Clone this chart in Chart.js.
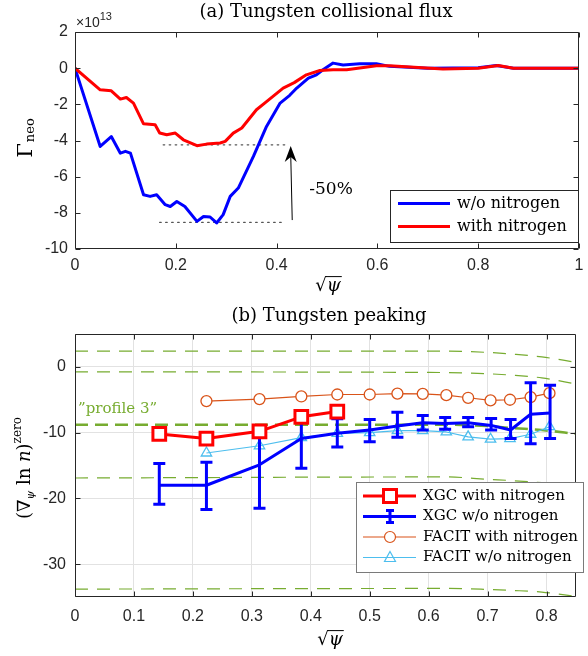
<!DOCTYPE html>
<html><head><meta charset="utf-8">
<script src="https://cdn.jsdelivr.net/npm/chart.js@4.4.1/dist/chart.umd.min.js"></script>
<style>
html,body{margin:0;padding:0;background:#fff;}
#wrap{position:relative;width:588px;height:656px;overflow:hidden;}
#c1{position:absolute;left:0;top:0;}
#c2{position:absolute;left:0;top:300px;}
</style></head><body>
<div id="wrap"><canvas id="c1" width="588" height="300"></canvas><canvas id="c2" width="588" height="356"></canvas></div>
<script>
// ---------- (a) Tungsten collisional flux (units of 1e13) ----------
const fluxXTicks = [0, 0.2, 0.4, 0.6, 0.8, 1];
const fluxYTicks = [-10, -8, -6, -4, -2, 0, 2];
const fluxSeriesNames = ['w/o nitrogen', 'with nitrogen'];
const fluxWoX = [0, 0.05, 0.072, 0.09, 0.1, 0.11, 0.136, 0.149, 0.162, 0.179, 0.189, 0.202, 0.218, 0.242, 0.255, 0.268, 0.281, 0.294, 0.308, 0.324, 0.354, 0.38, 0.407, 0.426, 0.44, 0.463, 0.479, 0.492, 0.512, 0.532, 0.565, 0.598, 0.624, 0.7, 0.8, 0.836, 0.87, 1.0];
const fluxWoY = [0, -4.33, -3.78, -4.7, -4.6, -4.7, -7.0, -7.09, -7.0, -7.55, -7.65, -7.37, -7.65, -8.47, -8.2, -8.23, -8.56, -8.1, -7.09, -6.63, -4.88, -3.22, -1.93, -1.5, -1.1, -0.55, -0.37, -0.09, 0.28, 0.18, 0.24, 0.24, 0.1, 0.0, 0.02, 0.15, 0.0, 0.0];
const fluxWithX = [0, 0.05, 0.072, 0.09, 0.102, 0.116, 0.136, 0.159, 0.168, 0.182, 0.199, 0.215, 0.242, 0.261, 0.288, 0.298, 0.314, 0.331, 0.36, 0.38, 0.413, 0.435, 0.459, 0.486, 0.512, 0.539, 0.598, 0.624, 0.73, 0.8, 0.84, 0.87, 1.0];
const fluxWithY = [0, -1.2, -1.25, -1.71, -1.62, -1.93, -3.08, -3.13, -3.59, -3.68, -3.59, -3.96, -4.29, -4.2, -4.14, -4.05, -3.59, -3.31, -2.3, -1.85, -1.1, -0.8, -0.37, -0.13, -0.09, -0.09, 0.13, 0.13, -0.05, 0.0, 0.15, 0.0, 0.0];
const dotUpperX = [0.175, 0.423], dotUpperY = [-4.24, -4.24];
const dotLowerX = [0.168, 0.413], dotLowerY = [-8.53, -8.53];
const arrowX = [0.431, 0.428], arrowY = [-8.4, -4.3];
const pctText = '-50%', pctX = 0.508, pctY = -6.72;

// ---------- (b) Tungsten peaking ----------
const peakXTicks = [0, 0.1, 0.2, 0.3, 0.4, 0.5, 0.6, 0.7, 0.8];
const peakYTicks = [-30, -20, -10, 0];
const peakSeriesNames = ['XGC with nitrogen', 'XGC w/o nitrogen', 'FACIT with nitrogen', 'FACIT w/o nitrogen'];
const xgcWithX = [0.143, 0.223, 0.313, 0.384, 0.445];
const xgcWithY = [-10.2, -10.9, -9.8, -7.6, -6.8];
const xgcWoX = [0.143, 0.223, 0.313, 0.384, 0.445, 0.5, 0.547, 0.59, 0.628, 0.667, 0.706, 0.739, 0.773, 0.806];
const xgcWoY = [-18.0, -18.0, -14.9, -10.9, -10.1, -9.6, -9.0, -8.5, -8.6, -8.5, -8.9, -9.6, -7.2, -7.0];
const xgcWoHi = [-14.7, -14.5, -9.6, -7.6, -7.9, -8.0, -6.9, -7.4, -7.7, -7.7, -7.85, -8.0, -2.4, -2.8];
const xgcWoLo = [-20.9, -21.7, -21.5, -15.4, -12.2, -11.4, -10.7, -9.6, -9.5, -9.1, -9.6, -10.9, -11.7, -10.9];
const facitX = [0.223, 0.313, 0.384, 0.445, 0.5, 0.547, 0.59, 0.63, 0.667, 0.705, 0.738, 0.773, 0.805];
const facitWithY = [-5.2, -4.9, -4.5, -4.2, -4.2, -4.06, -4.1, -4.3, -4.7, -5.1, -5.0, -4.6, -4.0];
const facitWoY = [-13.1, -12.0, -10.75, -10.1, -10.0, -9.7, -9.7, -9.9, -10.65, -11.0, -10.9, -10.25, -9.1];
const profX = [0, 0.63, 0.7, 0.742, 0.792, 0.85];
const profA = [2.4, 2.4, 2.2, 1.94, 1.52, 0.7];
const profB = [-0.76, -0.86, -1.05, -1.26, -1.67, -2.6];
const prof3 = [-8.8, -8.8, -9.0, -9.3, -9.6, -10.2];
const profC = [-16.9, -16.74, -17.1, -17.3, -17.6, -18.0];
const profD = [-33.8, -33.7, -33.85, -34.0, -34.25, -34.9];
const prof3Label = '\u201dprofile 3\u201d';

// ---------- helpers ----------
const TXT = '#262626';
const SERIF = '"DejaVu Serif", "Liberation Serif", serif';
const TICK_FONT = {family: '"Liberation Sans", Arial, sans-serif', size: 16};
const RED = '#ff0000', BLUE = '#0000ff', ORANGE = '#D95319', LBLUE = '#4DBEEE', GREEN = '#77AC30';

function pts(xs, ys) { return xs.map((x, i) => ({x: x, y: ys[i]})); }
function setTicks(vals) { return function (scale) { scale.ticks = vals.map(v => ({value: v})); }; }
function fitAxis(size, isX) {
  return function (scale) {
    if (isX) scale.height = size; else scale.width = size;
    scale.paddingLeft = 0; scale.paddingRight = 0; scale.paddingTop = 0; scale.paddingBottom = 0;
  };
}
function drawFrame(chart, xt, yt) {
  const {ctx, chartArea: a, scales: {x, y}} = chart;
  const L = Math.round(a.left) + 0.5, R = Math.round(a.right) - 0.5, T = Math.round(a.top) + 0.5, B = Math.round(a.bottom) - 0.5;
  ctx.save();
  ctx.strokeStyle = TXT; ctx.lineWidth = 1;
  ctx.beginPath(); ctx.rect(L, T, R - L, B - T); ctx.stroke();
  const tl = 5;
  ctx.beginPath();
  xt.forEach(v => { const px = Math.round(x.getPixelForValue(v)) + 0.5; ctx.moveTo(px, B); ctx.lineTo(px, B - tl); ctx.moveTo(px, T); ctx.lineTo(px, T + tl); });
  yt.forEach(v => { const py = Math.round(y.getPixelForValue(v)) + 0.5; ctx.moveTo(L, py); ctx.lineTo(L + tl, py); ctx.moveTo(R, py); ctx.lineTo(R - tl, py); });
  ctx.stroke();
  ctx.restore();
}
function drawSqrtPsi(ctx, cx, baseY) {
  ctx.save();
  ctx.fillStyle = '#000'; ctx.strokeStyle = '#000';
  ctx.textAlign = 'left'; ctx.textBaseline = 'alphabetic';
  ctx.font = '18px ' + SERIF;
  const m1 = ctx.measureText('\u221a'); const w1 = m1.width;
  ctx.font = 'italic 18px ' + SERIF;
  const w2 = ctx.measureText('\u03c8').width;
  const x0 = cx - (w1 + w2) / 2;
  ctx.font = '18px ' + SERIF; ctx.fillText('\u221a', x0, baseY);
  ctx.font = 'italic 18px ' + SERIF; ctx.fillText('\u03c8', x0 + w1, baseY);
  const topY = baseY - m1.actualBoundingBoxAscent + 0.6;
  ctx.lineWidth = 1;
  ctx.beginPath(); ctx.moveTo(x0 + w1 - 1.5, topY); ctx.lineTo(x0 + w1 + w2 + 1, topY); ctx.stroke();
  ctx.restore();
}
function drawTitle(ctx, text, cx, baseY) {
  ctx.save(); ctx.fillStyle = '#000'; ctx.font = '18px ' + SERIF;
  ctx.textAlign = 'center'; ctx.textBaseline = 'alphabetic';
  ctx.fillText(text, cx, baseY); ctx.restore();
}

// ---------- chart (a) plugin ----------
const fluxDecor = {
  id: 'fluxDecor',
  afterDatasetsDraw(chart) {
    const {ctx, scales: {x, y}} = chart;
    const x1 = x.getPixelForValue(arrowX[0]), y1 = y.getPixelForValue(arrowY[0]);
    const x2 = x.getPixelForValue(arrowX[1]), y2 = y.getPixelForValue(arrowY[1]);
    ctx.save();
    ctx.strokeStyle = '#000'; ctx.fillStyle = '#000'; ctx.lineWidth = 1;
    ctx.beginPath(); ctx.moveTo(x1, y1); ctx.lineTo(x2, y2 + 8); ctx.stroke();
    ctx.beginPath(); ctx.moveTo(x2, y2); ctx.lineTo(x2 - 6, y2 + 16); ctx.lineTo(x2, y2 + 11); ctx.lineTo(x2 + 6, y2 + 16); ctx.closePath(); ctx.fill();
    ctx.font = '17px ' + SERIF; ctx.textAlign = 'center'; ctx.textBaseline = 'middle';
    ctx.fillText(pctText, x.getPixelForValue(pctX), y.getPixelForValue(pctY));
    ctx.restore();
  },
  afterDraw(chart) {
    const ctx = chart.ctx;
    drawFrame(chart, fluxXTicks, fluxYTicks);
    drawTitle(ctx, '(a) Tungsten collisional flux', 326, 17);
    ctx.save(); ctx.fillStyle = TXT; ctx.textAlign = 'left'; ctx.textBaseline = 'alphabetic';
    ctx.font = '14px "Liberation Sans", Arial, sans-serif'; ctx.fillText('\u00d710', 76, 27);
    const w = ctx.measureText('\u00d710').width;
    ctx.font = '11px "Liberation Sans", Arial, sans-serif'; ctx.fillText('13', 76 + w, 20);
    ctx.restore();
    ctx.save(); ctx.translate(32, 138); ctx.rotate(-Math.PI / 2);
    ctx.fillStyle = '#000'; ctx.textAlign = 'left'; ctx.textBaseline = 'alphabetic';
    ctx.font = '21px ' + SERIF; const wG = ctx.measureText('\u0393').width;
    ctx.font = '13px ' + SERIF; const wn = ctx.measureText('neo').width;
    const tot = wG + wn + 1;
    ctx.font = '21px ' + SERIF; ctx.fillText('\u0393', -tot / 2, 0);
    ctx.font = '13px ' + SERIF; ctx.fillText('neo', -tot / 2 + wG + 1, 2);
    ctx.restore();
    drawSqrtPsi(ctx, 328, 291);
    ctx.save();
    ctx.fillStyle = '#fff'; ctx.strokeStyle = TXT; ctx.lineWidth = 1;
    ctx.fillRect(390.5, 190.5, 188, 52); ctx.strokeRect(390.5, 190.5, 188, 52);
    const cols = [BLUE, RED], rows = [203.5, 226.5];
    fluxSeriesNames.forEach((n, i) => {
      ctx.strokeStyle = cols[i]; ctx.lineWidth = 3;
      ctx.beginPath(); ctx.moveTo(398, rows[i]); ctx.lineTo(450, rows[i]); ctx.stroke();
      ctx.fillStyle = '#000'; ctx.font = '16px ' + SERIF; ctx.textAlign = 'left'; ctx.textBaseline = 'middle';
      ctx.fillText(n, 457, rows[i]);
    });
    ctx.restore();
  }
};

new Chart(document.getElementById('c1'), {
  type: 'line',
  data: {
    datasets: [
      {label: fluxSeriesNames[1], data: pts(fluxWithX, fluxWithY), borderColor: RED, borderWidth: 3, order: 1},
      {label: fluxSeriesNames[0], data: pts(fluxWoX, fluxWoY), borderColor: BLUE, borderWidth: 3, order: 2},
      {label: 'ref upper', data: pts(dotUpperX, dotUpperY), borderColor: '#555', borderWidth: 1.3, borderDash: [1.5, 4.5], order: 3},
      {label: 'ref lower', data: pts(dotLowerX, dotLowerY), borderColor: '#555', borderWidth: 1.3, borderDash: [1.5, 4.5], order: 3}
    ]
  },
  options: {
    responsive: false, animation: false, devicePixelRatio: 1,
    layout: {padding: {left: 0, right: 9, top: 32, bottom: 11}},
    plugins: {legend: {display: false}, tooltip: {enabled: false}, title: {display: false}},
    elements: {point: {radius: 0}, line: {tension: 0, borderJoinStyle: 'round', borderCapStyle: 'round'}},
    scales: {
      x: {type: 'linear', min: 0, max: 1, afterBuildTicks: setTicks(fluxXTicks), afterFit: fitAxis(40, true),
        grid: {display: false, drawTicks: false}, border: {display: false},
        ticks: {font: TICK_FONT, color: TXT, padding: 7, maxRotation: 0, autoSkip: false, callback: v => String(v)}},
      y: {type: 'linear', min: -10, max: 2, afterBuildTicks: setTicks(fluxYTicks), afterFit: fitAxis(75, false),
        grid: {display: false, drawTicks: false}, border: {display: false},
        ticks: {font: TICK_FONT, color: TXT, padding: 7, autoSkip: false, callback: v => String(v)}}
    }
  },
  plugins: [fluxDecor]
});

// ---------- chart (b) ----------
const XGC_WO_INDEX = 6;
const peakDecor = {
  id: 'peakDecor',
  afterDatasetDraw(chart, args) {
    if (args.index !== XGC_WO_INDEX) return;
    const {ctx, scales: {x, y}} = chart;
    ctx.save(); ctx.strokeStyle = BLUE; ctx.lineWidth = 3; ctx.lineCap = 'butt';
    xgcWoX.forEach((xv, i) => {
      const px = x.getPixelForValue(xv), pl = y.getPixelForValue(xgcWoLo[i]), ph = y.getPixelForValue(xgcWoHi[i]);
      ctx.beginPath();
      ctx.moveTo(px, pl); ctx.lineTo(px, ph);
      ctx.moveTo(px - 6, pl); ctx.lineTo(px + 6, pl);
      ctx.moveTo(px - 6, ph); ctx.lineTo(px + 6, ph);
      ctx.stroke();
    });
    ctx.restore();
  },
  afterDraw(chart) {
    const ctx = chart.ctx;
    drawFrame(chart, peakXTicks, peakYTicks);
    drawTitle(ctx, '(b) Tungsten peaking', 329, 21);
    ctx.save(); ctx.fillStyle = GREEN; ctx.font = '15px ' + SERIF; ctx.textAlign = 'left'; ctx.textBaseline = 'alphabetic';
    ctx.fillText(prof3Label, 78, 113); ctx.restore();
    ctx.save(); ctx.translate(30, 168); ctx.rotate(-Math.PI / 2);
    ctx.fillStyle = '#000'; ctx.textAlign = 'left'; ctx.textBaseline = 'alphabetic';
    const parts = [
      {t: '(', f: '18px ' + SERIF, dy: 0},
      {t: '\u2207', f: '18px ' + SERIF, dy: 0},
      {t: '\u03c8', f: 'italic 11px ' + SERIF, dy: 4},
      {t: ' ln ', f: '18px ' + SERIF, dy: 0},
      {t: 'n', f: 'italic 18px ' + SERIF, dy: 0},
      {t: ')', f: '18px ' + SERIF, dy: 0},
      {t: 'zero', f: '12px ' + SERIF, dy: -9}
    ];
    let total = 0;
    parts.forEach(p => { ctx.font = p.f; p.w = ctx.measureText(p.t).width; total += p.w; });
    let cx = -total / 2;
    parts.forEach(p => { ctx.font = p.f; ctx.fillText(p.t, cx, p.dy); cx += p.w; });
    ctx.restore();
    drawSqrtPsi(ctx, 330, 345);
    ctx.save();
    ctx.fillStyle = '#fff'; ctx.strokeStyle = '#7a7a7a'; ctx.lineWidth = 1;
    ctx.fillRect(356.5, 182.5, 227, 90); ctx.strokeRect(356.5, 182.5, 227, 90);
    const rows = [196, 216.5, 237, 257.5];
    const cols = [RED, BLUE, ORANGE, LBLUE];
    const widths = [3, 3, 1.2, 1.2];
    peakSeriesNames.forEach((n, i) => {
      const yy = rows[i], mx = 390;
      ctx.strokeStyle = cols[i]; ctx.lineWidth = widths[i];
      ctx.beginPath(); ctx.moveTo(363, yy); ctx.lineTo(416, yy); ctx.stroke();
      ctx.beginPath();
      if (i === 0) { ctx.lineWidth = 3; ctx.fillStyle = '#fff'; ctx.rect(mx - 6.5, yy - 6.5, 13, 13); ctx.fill(); ctx.stroke(); }
      if (i === 1) { ctx.lineWidth = 3; ctx.moveTo(mx, yy - 6); ctx.lineTo(mx, yy + 6); ctx.moveTo(mx - 4, yy - 6); ctx.lineTo(mx + 4, yy - 6); ctx.moveTo(mx - 4, yy + 6); ctx.lineTo(mx + 4, yy + 6); ctx.stroke(); }
      if (i === 2) { ctx.fillStyle = '#fff'; ctx.arc(mx, yy, 5.5, 0, Math.PI * 2); ctx.fill(); ctx.stroke(); }
      if (i === 3) { ctx.moveTo(mx, yy - 6); ctx.lineTo(mx + 5.5, yy + 4); ctx.lineTo(mx - 5.5, yy + 4); ctx.closePath(); ctx.stroke(); }
      ctx.fillStyle = '#000'; ctx.font = '15px ' + SERIF; ctx.textAlign = 'left'; ctx.textBaseline = 'middle';
      ctx.fillText(n, 423, yy);
    });
    ctx.restore();
  }
};

function profDs(label, ys, w, dash) {
  return {label: label, data: pts(profX, ys), borderColor: GREEN, borderWidth: w, borderDash: dash, pointRadius: 0, cubicInterpolationMode: 'monotone', order: 10};
}

new Chart(document.getElementById('c2'), {
  type: 'line',
  data: {
    datasets: [
      profDs('profile 1', profA, 1.2, [13, 9]),
      profDs('profile 2', profB, 1.2, [13, 9]),
      profDs('profile 3', prof3, 2.6, [13, 7]),
      profDs('profile 4', profC, 1.2, [13, 9]),
      profDs('profile 5', profD, 1.2, [13, 9]),
      {label: peakSeriesNames[0], data: pts(xgcWithX, xgcWithY), borderColor: RED, borderWidth: 3, pointStyle: 'rect', pointRadius: 9, pointBorderWidth: 3, pointBackgroundColor: '#fff', pointBorderColor: RED, order: 1},
      {label: peakSeriesNames[1], data: pts(xgcWoX, xgcWoY), borderColor: BLUE, borderWidth: 3, pointRadius: 0, order: 2},
      {label: peakSeriesNames[2], data: pts(facitX, facitWithY), borderColor: ORANGE, borderWidth: 1.2, pointStyle: 'circle', pointRadius: 5.5, pointBorderWidth: 1.3, pointBackgroundColor: '#fff', pointBorderColor: ORANGE, order: 3},
      {label: peakSeriesNames[3], data: pts(facitX, facitWoY), borderColor: LBLUE, borderWidth: 1.2, pointStyle: 'triangle', pointRadius: 6, pointBorderWidth: 1.3, pointBackgroundColor: 'rgba(0,0,0,0)', pointBorderColor: LBLUE, order: 4}
    ]
  },
  options: {
    responsive: false, animation: false, devicePixelRatio: 1,
    layout: {padding: {left: 0, right: 4, top: 34, bottom: 14}},
    plugins: {legend: {display: false}, tooltip: {enabled: false}, title: {display: false}},
    elements: {line: {tension: 0, borderJoinStyle: 'round'}},
    scales: {
      x: {type: 'linear', min: 0, max: 0.85, afterBuildTicks: setTicks(peakXTicks), afterFit: fitAxis(45, true),
        grid: {display: true, drawTicks: false, color: '#e2e2e2', lineWidth: 1}, border: {display: false},
        ticks: {font: TICK_FONT, color: TXT, padding: 10, maxRotation: 0, autoSkip: false, callback: v => String(v)}},
      y: {type: 'linear', min: -35, max: 5, afterBuildTicks: setTicks(peakYTicks), afterFit: fitAxis(75, false),
        grid: {display: true, drawTicks: false, color: '#e2e2e2', lineWidth: 1}, border: {display: false},
        ticks: {font: TICK_FONT, color: TXT, padding: 9, autoSkip: false, callback: v => String(v)}}
    }
  },
  plugins: [peakDecor]
});
</script>
</body></html>
